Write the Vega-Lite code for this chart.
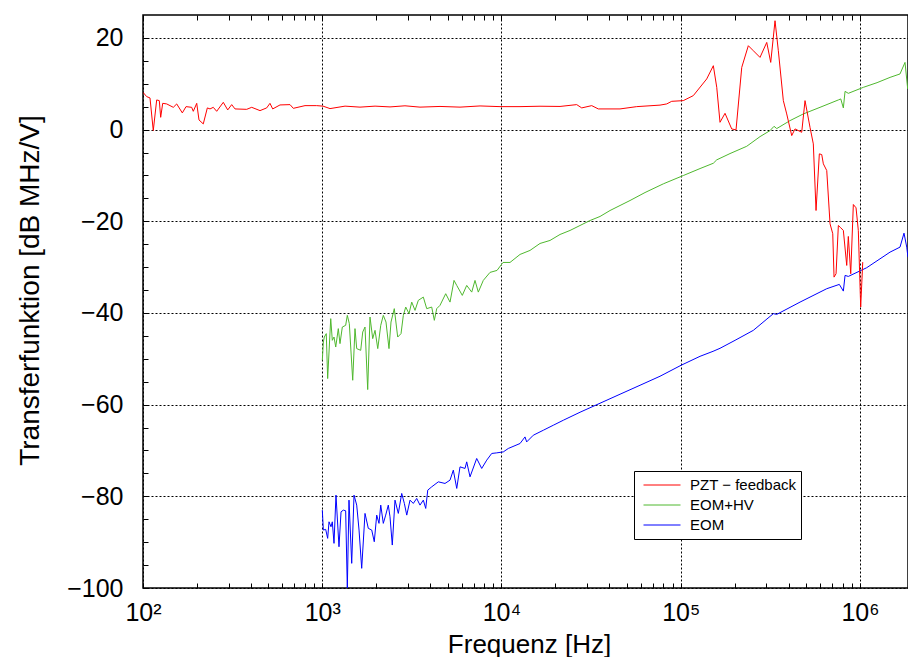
{
  "$schema": "https://vega.github.io/schema/vega-lite/v6.json",
  "width": 765,
  "height": 573,
  "autosize": {"type": "none"},
  "padding": {"left": 143, "top": 15, "right": 0, "bottom": 69},
  "background": "white",
  "config": {
    "view": {"stroke": "black", "strokeWidth": 1.5},
    "font": "Liberation Sans",
    "axis": {"domain": false, "labelFont": "Liberation Sans", "titleFont": "Liberation Sans", "labelColor": "black", "titleColor": "black", "tickColor": "black", "titleFontWeight": "normal"}
  },
  "datasets": {
    "pzt": [
      {"s":"PZT − feedback","f":100,"v":8.13},{"s":"PZT − feedback","f":104.9,"v":7.19},{"s":"PZT − feedback","f":109.4,"v":6.91},{"s":"PZT − feedback","f":114.1,"v":-0.22},{"s":"PZT − feedback","f":119.2,"v":6.47},{"s":"PZT − feedback","f":123.3,"v":6.32},{"s":"PZT − feedback","f":125.5,"v":2.68},{"s":"PZT − feedback","f":128.8,"v":5.73},{"s":"PZT − feedback","f":135.6,"v":5.6},{"s":"PZT − feedback","f":147.6,"v":4.86},{"s":"PZT − feedback","f":154.2,"v":5.6},{"s":"PZT − feedback","f":165.7,"v":3.64},{"s":"PZT − feedback","f":173.8,"v":5.01},{"s":"PZT − feedback","f":186.9,"v":4.86},{"s":"PZT − feedback","f":190.8,"v":3.99},{"s":"PZT − feedback","f":199.4,"v":5.73},{"s":"PZT − feedback","f":205.3,"v":2.11},{"s":"PZT − feedback","f":216.9,"v":1.24},{"s":"PZT − feedback","f":228.5,"v":4.73},{"s":"PZT − feedback","f":236.5,"v":4.51},{"s":"PZT − feedback","f":246.7,"v":4.86},{"s":"PZT − feedback","f":257.7,"v":3.99},{"s":"PZT − feedback","f":280.5,"v":5.95},{"s":"PZT − feedback","f":296.9,"v":4.29},{"s":"PZT − feedback","f":312.5,"v":5.45},{"s":"PZT − feedback","f":326.1,"v":4.51},{"s":"PZT − feedback","f":378.8,"v":4.42},{"s":"PZT − feedback","f":404.1,"v":4.86},{"s":"PZT − feedback","f":449.5,"v":4.14},{"s":"PZT − feedback","f":489.8,"v":4.73},{"s":"PZT − feedback","f":510.9,"v":5.73},{"s":"PZT − feedback","f":529.1,"v":4.51},{"s":"PZT − feedback","f":581.1,"v":5.38},{"s":"PZT − feedback","f":661,"v":5.45},{"s":"PZT − feedback","f":689.6,"v":4.64},{"s":"PZT − feedback","f":801.4,"v":5.23},{"s":"PZT − feedback","f":931.1,"v":5.23},{"s":"PZT − feedback","f":1010,"v":5.12},{"s":"PZT − feedback","f":1105,"v":4.58},{"s":"PZT − feedback","f":1340,"v":5.12},{"s":"PZT − feedback","f":1624,"v":4.9},{"s":"PZT − feedback","f":1970,"v":5.12},{"s":"PZT − feedback","f":2388,"v":4.95},{"s":"PZT − feedback","f":2894,"v":5.19},{"s":"PZT − feedback","f":3510,"v":4.9},{"s":"PZT − feedback","f":4539,"v":5.05},{"s":"PZT − feedback","f":5868,"v":4.9},{"s":"PZT − feedback","f":7590,"v":5.16},{"s":"PZT − feedback","f":9808,"v":5.01},{"s":"PZT − feedback","f":12685,"v":5.01},{"s":"PZT − feedback","f":16400,"v":5.1},{"s":"PZT − feedback","f":21210,"v":5.05},{"s":"PZT − feedback","f":26280,"v":5.45},{"s":"PZT − feedback","f":28030,"v":4.73},{"s":"PZT − feedback","f":31870,"v":5.23},{"s":"PZT − feedback","f":34680,"v":4.51},{"s":"PZT − feedback","f":45830,"v":4.51},{"s":"PZT − feedback","f":56790,"v":5.01},{"s":"PZT − feedback","f":76610,"v":5.34},{"s":"PZT − feedback","f":83510,"v":5.6},{"s":"PZT − feedback","f":89040,"v":6.17},{"s":"PZT − feedback","f":103300,"v":6.32},{"s":"PZT − feedback","f":117500,"v":7.41},{"s":"PZT − feedback","f":139600,"v":11.05},{"s":"PZT − feedback","f":152000,"v":13.94},{"s":"PZT − feedback","f":158800,"v":9.22},{"s":"PZT − feedback","f":165600,"v":1.59},{"s":"PZT − feedback","f":176600,"v":3.55},{"s":"PZT − feedback","f":192400,"v":0.15},{"s":"PZT − feedback","f":203400,"v":-0.07},{"s":"PZT − feedback","f":218900,"v":13.57},{"s":"PZT − feedback","f":238200,"v":18.3},{"s":"PZT − feedback","f":254000,"v":17.21},{"s":"PZT − feedback","f":276800,"v":15.75},{"s":"PZT − feedback","f":301800,"v":19.02},{"s":"PZT − feedback","f":317700,"v":14.66},{"s":"PZT − feedback","f":335700,"v":23.75},{"s":"PZT − feedback","f":350300,"v":17.21},{"s":"PZT − feedback","f":373500,"v":6.32},{"s":"PZT − feedback","f":390100,"v":3.42},{"s":"PZT − feedback","f":416000,"v":-1.31},{"s":"PZT − feedback","f":434000,"v":0.15},{"s":"PZT − feedback","f":473000,"v":-0.59},{"s":"PZT − feedback","f":493500,"v":6.32},{"s":"PZT − feedback","f":526200,"v":0.5},{"s":"PZT − feedback","f":549000,"v":-3.12},{"s":"PZT − feedback","f":568500,"v":-17.65},{"s":"PZT − feedback","f":593200,"v":-5.29},{"s":"PZT − feedback","f":611800,"v":-5.45},{"s":"PZT − feedback","f":624500,"v":-7.47},{"s":"PZT − feedback","f":652400,"v":-8.93},{"s":"PZT − feedback","f":680600,"v":-20.55},{"s":"PZT − feedback","f":704700,"v":-22.72},{"s":"PZT − feedback","f":716500,"v":-32.18},{"s":"PZT − feedback","f":735200,"v":-31.44},{"s":"PZT − feedback","f":757200,"v":-20.92},{"s":"PZT − feedback","f":781000,"v":-21.42},{"s":"PZT − feedback","f":807500,"v":-22.0},{"s":"PZT − feedback","f":843300,"v":-29.63},{"s":"PZT − feedback","f":860800,"v":-23.31},{"s":"PZT − feedback","f":887800,"v":-31.44},{"s":"PZT − feedback","f":918000,"v":-16.34},{"s":"PZT − feedback","f":950500,"v":-17.06},{"s":"PZT − feedback","f":978800,"v":-22.0},{"s":"PZT − feedback","f":1009000,"v":-38.71},{"s":"PZT − feedback","f":1036000,"v":-28.91}
    ],
    "eom": [
      {"s":"EOM+HV","f":1001,"v":-50.33},{"s":"EOM+HV","f":1014,"v":-46.34},{"s":"EOM+HV","f":1027,"v":-45.25},{"s":"EOM+HV","f":1053,"v":-44.51},{"s":"EOM+HV","f":1072,"v":-54.31},{"s":"EOM+HV","f":1115,"v":-41.24},{"s":"EOM+HV","f":1138,"v":-45.97},{"s":"EOM+HV","f":1163,"v":-45.25},{"s":"EOM+HV","f":1189,"v":-47.43},{"s":"EOM+HV","f":1229,"v":-43.42},{"s":"EOM+HV","f":1256,"v":-46.69},{"s":"EOM+HV","f":1294,"v":-43.07},{"s":"EOM+HV","f":1351,"v":-42.7},{"s":"EOM+HV","f":1380,"v":-40.52},{"s":"EOM+HV","f":1416,"v":-42.33},{"s":"EOM+HV","f":1479,"v":-54.68},{"s":"EOM+HV","f":1523,"v":-43.42},{"s":"EOM+HV","f":1557,"v":-47.78},{"s":"EOM+HV","f":1639,"v":-48.15},{"s":"EOM+HV","f":1682,"v":-44.16},{"s":"EOM+HV","f":1732,"v":-43.07},{"s":"EOM+HV","f":1793,"v":-56.71},{"s":"EOM+HV","f":1847,"v":-40.89},{"s":"EOM+HV","f":1912,"v":-45.6},{"s":"EOM+HV","f":1970,"v":-43.79},{"s":"EOM+HV","f":2040,"v":-47.78},{"s":"EOM+HV","f":2120,"v":-42.7},{"s":"EOM+HV","f":2191,"v":-40.52},{"s":"EOM+HV","f":2268,"v":-41.98},{"s":"EOM+HV","f":2357,"v":-47.78},{"s":"EOM+HV","f":2419,"v":-41.98},{"s":"EOM+HV","f":2523,"v":-39.06},{"s":"EOM+HV","f":2636,"v":-45.25},{"s":"EOM+HV","f":2751,"v":-44.51},{"s":"EOM+HV","f":2834,"v":-40.52},{"s":"EOM+HV","f":2923,"v":-38.71},{"s":"EOM+HV","f":3048,"v":-40.15},{"s":"EOM+HV","f":3156,"v":-37.63},{"s":"EOM+HV","f":3293,"v":-39.43},{"s":"EOM+HV","f":3435,"v":-37.25},{"s":"EOM+HV","f":3663,"v":-36.54},{"s":"EOM+HV","f":3827,"v":-39.06},{"s":"EOM+HV","f":4080,"v":-38.71},{"s":"EOM+HV","f":4220,"v":-41.61},{"s":"EOM+HV","f":4352,"v":-39.06},{"s":"EOM+HV","f":4539,"v":-38.34},{"s":"EOM+HV","f":4884,"v":-35.8},{"s":"EOM+HV","f":5162,"v":-37.63},{"s":"EOM+HV","f":5434,"v":-32.9},{"s":"EOM+HV","f":5627,"v":-33.99},{"s":"EOM+HV","f":6044,"v":-36.17},{"s":"EOM+HV","f":6396,"v":-33.99},{"s":"EOM+HV","f":6822,"v":-35.45},{"s":"EOM+HV","f":7116,"v":-32.9},{"s":"EOM+HV","f":7424,"v":-35.45},{"s":"EOM+HV","f":7915,"v":-32.9},{"s":"EOM+HV","f":8628,"v":-31.15},{"s":"EOM+HV","f":9441,"v":-30.72},{"s":"EOM+HV","f":10195,"v":-28.98},{"s":"EOM+HV","f":11155,"v":-28.98},{"s":"EOM+HV","f":12690,"v":-27.23},{"s":"EOM+HV","f":14420,"v":-26.36},{"s":"EOM+HV","f":16400,"v":-24.84},{"s":"EOM+HV","f":18650,"v":-24.18},{"s":"EOM+HV","f":21210,"v":-22.88},{"s":"EOM+HV","f":24120,"v":-22.0},{"s":"EOM+HV","f":27420,"v":-20.92},{"s":"EOM+HV","f":31190,"v":-19.83},{"s":"EOM+HV","f":35460,"v":-18.95},{"s":"EOM+HV","f":40320,"v":-17.65},{"s":"EOM+HV","f":45840,"v":-16.56},{"s":"EOM+HV","f":52120,"v":-15.47},{"s":"EOM+HV","f":63200,"v":-13.73},{"s":"EOM+HV","f":79940,"v":-11.83},{"s":"EOM+HV","f":103350,"v":-10.02},{"s":"EOM+HV","f":128100,"v":-8.5},{"s":"EOM+HV","f":152000,"v":-7.34},{"s":"EOM+HV","f":158800,"v":-6.6},{"s":"EOM+HV","f":188300,"v":-5.23},{"s":"EOM+HV","f":233400,"v":-3.64},{"s":"EOM+HV","f":276900,"v":-1.53},{"s":"EOM+HV","f":314900,"v":-0.22},{"s":"EOM+HV","f":331500,"v":0.72},{"s":"EOM+HV","f":343200,"v":0.22},{"s":"EOM+HV","f":407000,"v":1.96},{"s":"EOM+HV","f":483000,"v":3.42},{"s":"EOM+HV","f":598400,"v":4.86},{"s":"EOM+HV","f":757200,"v":6.47},{"s":"EOM+HV","f":781000,"v":6.69},{"s":"EOM+HV","f":807500,"v":4.73},{"s":"EOM+HV","f":825300,"v":8.34},{"s":"EOM+HV","f":860800,"v":7.91},{"s":"EOM+HV","f":1044000,"v":9.22},{"s":"EOM+HV","f":1245000,"v":10.24},{"s":"EOM+HV","f":1471000,"v":11.39},{"s":"EOM+HV","f":1672000,"v":12.14},{"s":"EOM+HV","f":1783000,"v":14.66},{"s":"EOM+HV","f":1846000,"v":8.87},
      {"s":"EOM","f":1001,"v":-83.01},{"s":"EOM","f":1014,"v":-87.36},{"s":"EOM","f":1045,"v":-87.21},{"s":"EOM","f":1072,"v":-89.17},{"s":"EOM","f":1091,"v":-85.56},{"s":"EOM","f":1119,"v":-86.64},{"s":"EOM","f":1138,"v":-85.56},{"s":"EOM","f":1163,"v":-90.26},{"s":"EOM","f":1193,"v":-79.74},{"s":"EOM","f":1240,"v":-91.0},{"s":"EOM","f":1273,"v":-83.38},{"s":"EOM","f":1311,"v":-83.01},{"s":"EOM","f":1351,"v":-83.16},{"s":"EOM","f":1380,"v":-100},{"s":"EOM","f":1410,"v":-80.83},{"s":"EOM","f":1460,"v":-94.62},{"s":"EOM","f":1504,"v":-79.74},{"s":"EOM","f":1557,"v":-81.92},{"s":"EOM","f":1604,"v":-87.36},{"s":"EOM","f":1660,"v":-95.71},{"s":"EOM","f":1732,"v":-83.73},{"s":"EOM","f":1807,"v":-86.99},{"s":"EOM","f":1888,"v":-87.36},{"s":"EOM","f":1951,"v":-89.91},{"s":"EOM","f":2013,"v":-84.1},{"s":"EOM","f":2073,"v":-85.9},{"s":"EOM","f":2120,"v":-81.92},{"s":"EOM","f":2191,"v":-85.9},{"s":"EOM","f":2259,"v":-84.1},{"s":"EOM","f":2336,"v":-81.92},{"s":"EOM","f":2388,"v":-84.47},{"s":"EOM","f":2459,"v":-90.63},{"s":"EOM","f":2546,"v":-80.83},{"s":"EOM","f":2657,"v":-83.73},{"s":"EOM","f":2776,"v":-79.37},{"s":"EOM","f":2871,"v":-81.55},{"s":"EOM","f":2961,"v":-84.1},{"s":"EOM","f":3088,"v":-80.83},{"s":"EOM","f":3221,"v":-81.55},{"s":"EOM","f":3365,"v":-80.46},{"s":"EOM","f":3510,"v":-81.92},{"s":"EOM","f":3663,"v":-80.83},{"s":"EOM","f":3778,"v":-82.64},{"s":"EOM","f":3877,"v":-78.65},{"s":"EOM","f":4080,"v":-77.93},{"s":"EOM","f":4442,"v":-76.84},{"s":"EOM","f":4840,"v":-77.19},{"s":"EOM","f":5162,"v":-76.47},{"s":"EOM","f":5385,"v":-74.29},{"s":"EOM","f":5627,"v":-78.28},{"s":"EOM","f":5868,"v":-73.57},{"s":"EOM","f":6259,"v":-73.92},{"s":"EOM","f":6396,"v":-72.48},{"s":"EOM","f":6674,"v":-75.75},{"s":"EOM","f":7272,"v":-71.74},{"s":"EOM","f":7756,"v":-73.92},{"s":"EOM","f":8271,"v":-72.11},{"s":"EOM","f":8820,"v":-70.65},{"s":"EOM","f":9404,"v":-70.52},{"s":"EOM","f":10235,"v":-70.31},{"s":"EOM","f":10915,"v":-69.56},{"s":"EOM","f":12690,"v":-68.48},{"s":"EOM","f":13525,"v":-67.04},{"s":"EOM","f":13820,"v":-68.13},{"s":"EOM","f":15050,"v":-66.67},{"s":"EOM","f":17120,"v":-65.58},{"s":"EOM","f":19460,"v":-64.49},{"s":"EOM","f":22130,"v":-63.4},{"s":"EOM","f":27420,"v":-61.66},{"s":"EOM","f":35460,"v":-59.69},{"s":"EOM","f":45840,"v":-57.73},{"s":"EOM","f":59270,"v":-55.77},{"s":"EOM","f":76610,"v":-53.81},{"s":"EOM","f":100350,"v":-51.42},{"s":"EOM","f":128100,"v":-49.46},{"s":"EOM","f":151400,"v":-48.37},{"s":"EOM","f":165600,"v":-47.71},{"s":"EOM","f":200900,"v":-45.97},{"s":"EOM","f":254100,"v":-43.79},{"s":"EOM","f":328600,"v":-40.15},{"s":"EOM","f":343200,"v":-40.31},{"s":"EOM","f":462900,"v":-37.63},{"s":"EOM","f":652400,"v":-34.71},{"s":"EOM","f":766700,"v":-33.77},{"s":"EOM","f":807500,"v":-35.23},{"s":"EOM","f":825300,"v":-31.81},{"s":"EOM","f":860800,"v":-32.03},{"s":"EOM","f":1090000,"v":-30.13},{"s":"EOM","f":1471000,"v":-26.73},{"s":"EOM","f":1672000,"v":-25.64},{"s":"EOM","f":1760000,"v":-22.59},{"s":"EOM","f":1823000,"v":-25.64},{"s":"EOM","f":1852000,"v":-27.82}
    ]
  },
  "resolve": {"axis": {"x": "independent"}},
  "layer": [
    {
      "data": {"name": "eom"},
      "mark": {"type": "line", "strokeWidth": 1, "clip": true},
      "encoding": {
        "x": {"field": "f", "type": "quantitative",
          "scale": {"type": "log", "domain": [100, 1852700], "nice": false},
          "axis": {"orient": "top", "title": null, "labels": false, "grid": false, "tickSize": -5, "tickWidth": 1,
            "values": [100,200,300,400,500,600,700,800,900,1000,2000,3000,4000,5000,6000,7000,8000,9000,10000,20000,30000,40000,50000,60000,70000,80000,90000,100000,200000,300000,400000,500000,600000,700000,800000,900000,1000000]}},
        "y": {"field": "v", "type": "quantitative",
          "scale": {"domain": [-100, 25], "nice": false, "zero": false},
          "axis": {"title": "Transferfunktion [dB MHz/V]", "titleFontSize": 28, "titleX": -113, "titleY": 275, "titleAngle": -90, "titleBaseline": "middle", "titleAlign": "center",
            "values": [-100,-95,-90,-85,-80,-75,-70,-65,-60,-55,-50,-45,-40,-35,-30,-25,-20,-15,-10,-5,0,5,10,15,20],
            "labelExpr": "datum.value % 20 === 0 ? datum.label : ''",
            "labelFontSize": 25, "labelPadding": 25, "tickSize": -5, "tickWidth": 1,
            "grid": true, "gridColor": "black", "gridDash": [2, 2], "gridWidth": 1,
            "gridOpacity": {"condition": {"test": "datum.value % 20 === 0", "value": 1}, "value": 0}}},
        "color": {"field": "s", "type": "nominal",
          "scale": {"domain": ["PZT − feedback", "EOM+HV", "EOM"], "range": ["#ff0000", "#4fb82e", "#0000ff"]},
          "legend": {"orient": "none", "legendX": 491, "legendY": 456, "title": null, "fillColor": "white", "strokeColor": "black", "padding": 4, "symbolType": "stroke", "symbolSize": 1369, "symbolStrokeWidth": 1, "clipHeight": 20, "rowPadding": 0, "labelFontSize": 15, "labelFont": "Liberation Sans", "labelColor": "black", "labelOffset": 9, "symbolOffset": 5}}
      }
    },
    {
      "data": {"name": "pzt"},
      "mark": {"type": "line", "strokeWidth": 1, "clip": true},
      "encoding": {
        "x": {"field": "f", "type": "quantitative",
          "scale": {"type": "log", "domain": [100, 1852700], "nice": false},
          "axis": {"orient": "bottom", "title": "Frequenz [Hz]", "titleFontSize": 26, "titleX": 386, "titleY": 64, "titleBaseline": "alphabetic", "titleAlign": "center",
            "values": [100,200,300,400,500,600,700,800,900,1000,2000,3000,4000,5000,6000,7000,8000,9000,10000,20000,30000,40000,50000,60000,70000,80000,90000,100000,200000,300000,400000,500000,600000,700000,800000,900000,1000000],
            "labelExpr": "abs(log(datum.value)/LN10 - round(log(datum.value)/LN10)) < 0.001 ? '10' + ['⁰','¹','²','³','⁴','⁵','⁶'][round(log(datum.value)/LN10)] : ''",
            "labelFontSize": 25, "labelPadding": 17, "labelFlush": false, "labelOverlap": false, "tickSize": -5, "tickWidth": 1,
            "grid": true, "gridColor": "black", "gridDash": [2, 2], "gridWidth": 1,
            "gridOpacity": {"condition": {"test": "abs(log(datum.value)/LN10 - round(log(datum.value)/LN10)) < 0.001", "value": 1}, "value": 0}}},
        "y": {"field": "v", "type": "quantitative",
          "scale": {"domain": [-100, 25], "nice": false, "zero": false},
          "axis": {"title": "Transferfunktion [dB MHz/V]", "titleFontSize": 28, "titleX": -113, "titleY": 275, "titleAngle": -90, "titleBaseline": "middle", "titleAlign": "center",
            "values": [-100,-95,-90,-85,-80,-75,-70,-65,-60,-55,-50,-45,-40,-35,-30,-25,-20,-15,-10,-5,0,5,10,15,20],
            "labelExpr": "datum.value % 20 === 0 ? datum.label : ''",
            "labelFontSize": 25, "labelPadding": 25, "tickSize": -5, "tickWidth": 1,
            "grid": true, "gridColor": "black", "gridDash": [2, 2], "gridWidth": 1,
            "gridOpacity": {"condition": {"test": "datum.value % 20 === 0", "value": 1}, "value": 0}}},
        "color": {"field": "s", "type": "nominal",
          "scale": {"domain": ["PZT − feedback", "EOM+HV", "EOM"], "range": ["#ff0000", "#4fb82e", "#0000ff"]}}
      }
    }
  ]
}
